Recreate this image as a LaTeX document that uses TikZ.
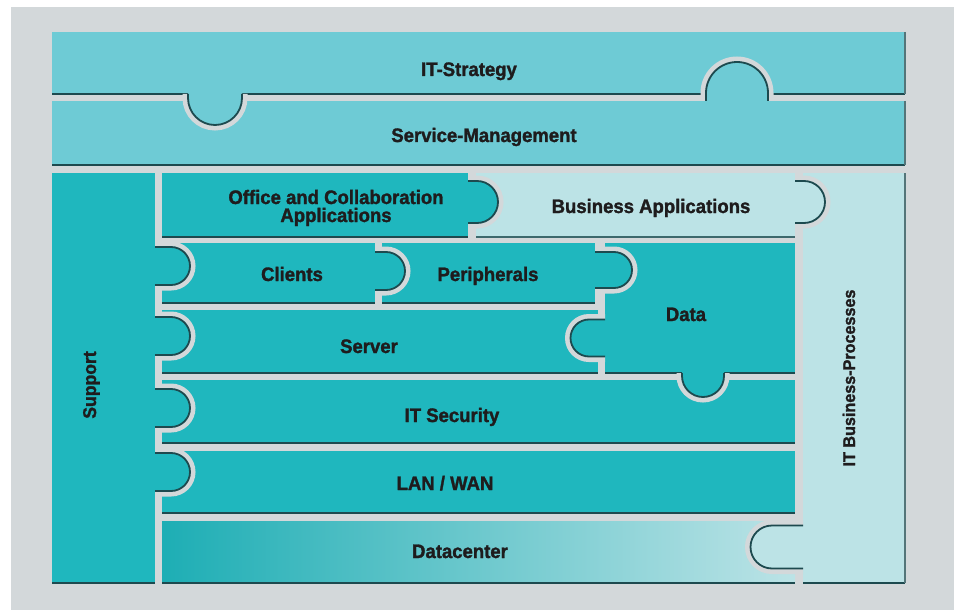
\documentclass[tikz,border=0pt]{standalone}
\usepackage{fontspec}
\newfontfamily\labfont{Liberation Sans}[FakeStretch=0.95, BoldFeatures={FakeBold=1.5}]
\usetikzlibrary{fit}
\definecolor{bggray}{HTML}{D3D8DA}
\definecolor{cstrat}{HTML}{6ECBD5}
\definecolor{cmid}{HTML}{1FB7BE}
\definecolor{clight}{HTML}{BCE3E6}
\definecolor{cedge}{HTML}{1D4A4F}
\definecolor{ctext}{HTML}{1E1C1D}
% knob pointing right: colour, base x, centre y, neck, radius
\newcommand\knobR[5]{%
  \draw[halo] (#2,#3-#5) -- (#2+#4,#3-#5) arc[start angle=-90,end angle=90,radius=#5] -- (#2,#3+#5);
  \fill[#1] (#2-2,#3-#5) -- (#2+#4,#3-#5) arc[start angle=-90,end angle=90,radius=#5] -- (#2-2,#3+#5) -- cycle;
  \draw[edge] (#2,#3-#5) -- (#2+#4,#3-#5) arc[start angle=-90,end angle=90,radius=#5] -- (#2,#3+#5);}
% knob pointing left
\newcommand\knobL[5]{%
  \draw[halo] (#2,#3-#5) -- (#2-#4,#3-#5) arc[start angle=-90,end angle=-270,radius=#5] -- (#2,#3+#5);
  \fill[#1] (#2+2,#3-#5) -- (#2-#4,#3-#5) arc[start angle=-90,end angle=-270,radius=#5] -- (#2+2,#3+#5) -- cycle;
  \draw[edge] (#2,#3-#5) -- (#2-#4,#3-#5) arc[start angle=-90,end angle=-270,radius=#5] -- (#2,#3+#5);}
% knob pointing down: colour, centre x, base y, neck, radius
\newcommand\knobD[5]{%
  \draw[halo] (#2-#5,#3) -- (#2-#5,#3+#4) arc[start angle=180,end angle=0,radius=#5] -- (#2+#5,#3);
  \fill[#1] (#2-#5,#3-2) -- (#2-#5,#3+#4) arc[start angle=180,end angle=0,radius=#5] -- (#2+#5,#3-2) -- cycle;
  \draw[edge] (#2-#5,#3) -- (#2-#5,#3+#4) arc[start angle=180,end angle=0,radius=#5] -- (#2+#5,#3);}
% knob pointing up
\newcommand\knobU[5]{%
  \draw[halo] (#2-#5,#3) -- (#2-#5,#3-#4) arc[start angle=180,end angle=360,radius=#5] -- (#2+#5,#3);
  \fill[#1] (#2-#5,#3+2) -- (#2-#5,#3-#4) arc[start angle=180,end angle=360,radius=#5] -- (#2+#5,#3+2) -- cycle;
  \draw[edge] (#2-#5,#3) -- (#2-#5,#3-#4) arc[start angle=180,end angle=360,radius=#5] -- (#2+#5,#3);}
\begin{document}
\begin{tikzpicture}[x=1pt,y=-1pt,
  piece/.style={inner sep=0pt, outer sep=0pt, draw=none},
  edge/.style={draw=cedge, line width=1.8pt},
  sideedge/.style={draw=cedge!70!bggray, line width=1.4pt},
  halo/.style={draw=bggray, line width=11pt},
  lab/.style={font=\labfont\bfseries\fontsize{19.5}{18}\selectfont, text=ctext, inner sep=0pt, align=center}]
\useasboundingbox (0,0) rectangle (954,610);
\fill[white] (0,0) rectangle (954,610);
\fill[bggray] (11,7) rectangle (954,610);
% pieces
\node[piece, fill=cstrat, fit={(52,32) (905,94)}] (strat) {};
\node[piece, fill=cstrat, fit={(52,101) (905,165)}] (sm) {};
\node[piece, fill=cmid, fit={(52,173) (155,583)}] (support) {};
\node[piece, fill=cmid, fit={(162,173) (468,237)}] (office) {};
\node[piece, fill=clight, fit={(476,173) (795,237)}] (busapp) {};
\node[piece, fill=clight, fit={(803,173) (905,583)}] (itbp) {};
\node[piece, fill=cmid, fit={(162,243) (375,303)}] (clients) {};
\node[piece, fill=cmid, fit={(382,243) (595,303)}] (periph) {};
\node[piece, fill=cmid, fit={(605,243) (795,373)}] (data) {};
\node[piece, fill=cmid, fit={(162,310) (598,373)}] (server) {};
\node[piece, fill=cmid, fit={(162,380) (795,443)}] (itsec) {};
\node[piece, fill=cmid, fit={(162,451) (795,513)}] (lan) {};
\node[piece, left color=cmid!95!black, right color=clight, fit={(162,521) (795,583)}] (datac) {};
% bottom / right edges
\foreach \p in {strat,sm,support,office,clients,periph,data,server,itsec,lan,datac,itbp}
  \draw[edge] (\p.south west) -- (\p.south east);
\draw[edge, draw=cedge!80!clight] (busapp.south west) -- (busapp.south east);
\foreach \p in {strat,sm,itbp}
  \draw[sideedge] (\p.north east) -- (\p.south east);
% knobs
\knobD{cstrat}{215}{94}{4}{27}
\knobU{cstrat}{737}{101}{8}{31}
\knobR{cmid}{468}{202}{9}{21}
\knobR{clight}{795}{202}{9}{21}
\knobR{cmid}{155}{266}{16}{19}
\knobR{cmid}{155}{336}{16}{19}
\knobR{cmid}{155}{408}{16}{19}
\knobR{cmid}{155}{472}{16}{19}
\knobR{cmid}{375}{271}{11}{19}
\knobR{cmid}{595}{270}{19}{18}
\knobL{cmid}{605}{338}{16}{18.5}
\knobD{cmid}{703}{373}{3}{21}
\knobL{clight}{803}{547}{31}{21.5}
% labels
\node[lab, anchor=base] (tstrat) at (469,76) {IT-Strategy};
\node[lab, anchor=base] (tsm) at (484,142) {Service-Management};
\node[lab, anchor=base] (toffice) at (336,222) {Office and Collaboration\\Applications};
\node[lab, anchor=base] (tba) at (651,213) {Business Applications};
\node[lab, anchor=base] (tclients) at (292,281) {Clients};
\node[lab, anchor=base] (tperiph) at (488,281) {Peripherals};
\node[lab, anchor=base] (tdata) at (686,321) {Data};
\node[lab, anchor=base] (tserver) at (369,353) {Server};
\node[lab, anchor=base] (titsec) at (452,422) {IT Security};
\node[lab, anchor=base] (tlan) at (445,490) {LAN / WAN};
\node[lab, anchor=base] (tdatac) at (460,558) {Datacenter};
\node[lab, anchor=base, rotate=90, font=\labfont\bfseries\fontsize{18.5}{18}\selectfont] (tsupport) at (96,385) {Support};
\node[lab, anchor=base, rotate=90, font=\labfont\bfseries\fontsize{17}{18}\selectfont] (titbp) at (855,378) {IT Business-Processes};
\end{tikzpicture}
\end{document}
